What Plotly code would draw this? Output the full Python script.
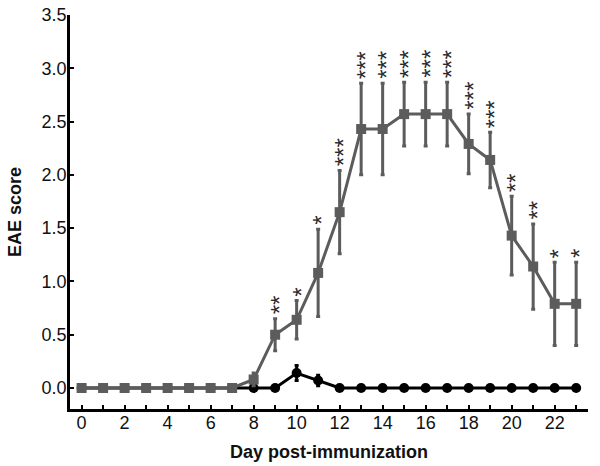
import plotly.graph_objects as go

days = list(range(24))

# Gray series (squares)
gray_mean = [0, 0, 0, 0, 0, 0, 0, 0, 0.08, 0.50, 0.64, 1.08, 1.65, 2.43, 2.43,
             2.57, 2.57, 2.57, 2.29, 2.14, 1.43, 1.14, 0.79, 0.79]
gray_err = [0, 0, 0, 0, 0, 0, 0, 0, 0.06, 0.15, 0.18, 0.41, 0.39, 0.43, 0.43,
            0.30, 0.30, 0.30, 0.28, 0.26, 0.37, 0.40, 0.39, 0.39]

# Black series (circles)
black_mean = [0, 0, 0, 0, 0, 0, 0, 0, 0, 0, 0.14, 0.07, 0, 0, 0,
              0, 0, 0, 0, 0, 0, 0, 0, 0]
black_err = [0, 0, 0, 0, 0, 0, 0, 0, 0, 0, 0.07, 0.05, 0, 0, 0,
             0, 0, 0, 0, 0, 0, 0, 0, 0]

# Significance stars per day
stars = [0, 0, 0, 0, 0, 0, 0, 0, 0, 2, 1, 1, 3, 3, 3, 3, 3, 3, 3, 3, 2, 2, 1, 1]

GRAY = "#5c5c5c"
BLACK = "#000000"
FONT = "Liberation Sans, Arial, sans-serif"

fig = go.Figure()

fig.add_trace(go.Scatter(
    x=days, y=black_mean, mode="lines+markers",
    line=dict(color=BLACK, width=3),
    marker=dict(symbol="circle", size=10, color=BLACK),
    error_y=dict(type="data", array=black_err, visible=True,
                 color=BLACK, thickness=3, width=2),
    showlegend=False,
))

fig.add_trace(go.Scatter(
    x=days, y=gray_mean, mode="lines+markers",
    line=dict(color=GRAY, width=3),
    marker=dict(symbol="square", size=10, color=GRAY),
    error_y=dict(type="data", array=gray_err, visible=True,
                 color=GRAY, thickness=3, width=2),
    showlegend=False,
))

annotations = []
for d, m, e, n in zip(days, gray_mean, gray_err, stars):
    if n == 0:
        continue
    annotations.append(dict(
        x=d, y=m + e, xref="x", yref="y", text="*" * n,
        showarrow=False, yanchor="bottom", xanchor="center",
        textangle=-90, xshift=4, yshift=2,
        font=dict(family=FONT, size=24, color="#2a2a2a"),
    ))

fig.update_layout(
    width=600, height=466,
    margin=dict(l=70, r=12, t=15, b=57),
    paper_bgcolor="white", plot_bgcolor="white",
    font=dict(family=FONT, size=18, color="#111111"),
    annotations=annotations,
    xaxis=dict(
        range=[-0.54, 23.55], tickmode="linear", tick0=0, dtick=2,
        ticks="inside", ticklen=4, tickwidth=1.5, tickcolor="black",
        minor=dict(dtick=1, ticks="inside", ticklen=4, tickwidth=1.5, tickcolor="black"),
        showline=True, linecolor="black", linewidth=2.5,
        showgrid=False, zeroline=False, automargin=False,
        ticklabelstandoff=-4,
        title=dict(text="<b>Day post-immunization</b>", font=dict(size=18), standoff=14),
        tickfont=dict(size=18),
    ),
    yaxis=dict(
        range=[-0.197, 3.5], tickmode="linear", tick0=0, dtick=0.5,
        tickformat=".1f",
        ticks="inside", ticklen=4, tickwidth=1.5, tickcolor="black",
        showline=True, linecolor="black", linewidth=2.5,
        showgrid=False, zeroline=False, automargin=False,
        ticklabelstandoff=-3,
        title=dict(text="<b>EAE score</b>", font=dict(size=18), standoff=16),
        tickfont=dict(size=18),
    ),
)

fig.write_html("out.html", config={"displayModeBar": False},
               post_script="document.body.style.margin='0px';")
